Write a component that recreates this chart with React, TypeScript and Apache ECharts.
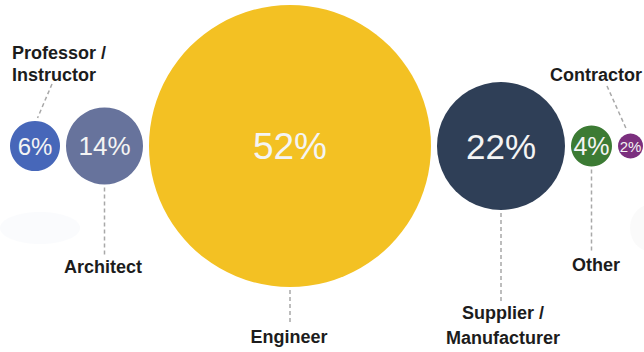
import React, { useEffect, useRef } from "react";
import * as echarts from "echarts";

// Data
const categories = ["Professor /\nInstructor", "Architect", "Engineer", "Supplier /\nManufacturer", "Other", "Contractor"];
const shares = [6, 14, 52, 22, 4, 2];
const colors = ["#4767b9", "#67739c", "#f3c123", "#2f3f57", "#3c7b34", "#7b2f7e"];

// Styles / layout (not data)
const pctFontSizes = [24, 26, 37, 35, 25, 15];
const W = 644;
const H = 352;
const CY = 146;
const START_X = 10;
const GAP = 6;
// piecewise-linear bubble size scale (share -> diameter px)
const sizeDomain = [2, 4, 6, 14, 22, 52];
const sizeRange = [25, 41, 50, 77, 128, 282];
const sizeOf = (v: number) => {
  if (v <= sizeDomain[0]) return sizeRange[0];
  for (let k = 1; k < sizeDomain.length; k++) {
    if (v <= sizeDomain[k]) {
      const t = (v - sizeDomain[k - 1]) / (sizeDomain[k] - sizeDomain[k - 1]);
      return sizeRange[k - 1] + t * (sizeRange[k] - sizeRange[k - 1]);
    }
  }
  return sizeRange[sizeRange.length - 1];
};

type LabelCfg = { side: "top" | "bottom"; lx: number; ly: number; align: "left" | "center"; lineFrom?: [number, number]; lineEndY?: number };
const labelCfg: LabelCfg[] = [
  { side: "top", lx: 12, ly: 64, align: "left", lineFrom: [52, 84] },
  { side: "bottom", lx: 103, ly: 267, align: "center", lineEndY: 255 },
  { side: "bottom", lx: 289, ly: 337, align: "center", lineEndY: 323 },
  { side: "bottom", lx: 503, ly: 325, align: "center", lineEndY: 304 },
  { side: "bottom", lx: 596, ly: 265, align: "center", lineEndY: 251 },
  { side: "top", lx: 596, ly: 75, align: "center", lineFrom: [607, 86] },
];

export default function App() {
  const ref = useRef<HTMLDivElement>(null);
  useEffect(() => {
    document.body.style.margin = "0";
    if (!ref.current) return;
    const chart = echarts.init(ref.current, undefined, { renderer: "svg" });

    const xs: number[] = [];
    let cursor = START_X;
    shares.forEach((v) => {
      const d = sizeOf(v);
      xs.push(cursor + d / 2);
      cursor += d + GAP;
    });

    chart.setOption({
      animation: false,
      backgroundColor: "#ffffff",
      grid: { left: 0, right: 0, top: 0, bottom: 0 },
      xAxis: { type: "value", min: 0, max: W, show: false },
      yAxis: { type: "value", min: 0, max: H, inverse: true, show: false },
      series: [
        {
          type: "scatter",
          clip: false,
          symbolSize: (val: number[]) => sizeOf(val[2]),
          data: shares.map((v, i) => ({
            name: categories[i].replace("\n", " "),
            value: [xs[i], CY, v],
            itemStyle: { color: colors[i], opacity: 1 },
            label: { fontSize: pctFontSizes[i] },
          })),
          label: {
            show: true,
            position: "inside",
            formatter: (p: any) => p.value[2] + "%",
            color: "#f4f4f4",
            fontFamily: "Liberation Sans, Arial, sans-serif",
            fontWeight: "normal",
          },
        },
      ],
    });

    const graphics: any[] = [];
    graphics.push({ type: "ellipse", shape: { cx: 40, cy: 228, rx: 40, ry: 16 }, style: { fill: "rgba(236,240,248,0.25)" }, z: 0 });
    graphics.push({ type: "ellipse", shape: { cx: 652, cy: 228, rx: 22, ry: 24 }, style: { fill: "rgba(232,232,232,0.22)" }, z: 0 });

    shares.forEach((v, i) => {
      const [px, py] = chart.convertToPixel({ gridIndex: 0 }, [xs[i], CY]) as number[];
      const r = sizeOf(v) / 2;
      const cfg = labelCfg[i];
      let x1: number, y1: number, x2: number, y2: number;
      if (cfg.side === "bottom") {
        x1 = px; y1 = py + r + 3; x2 = px; y2 = cfg.lineEndY as number;
      } else {
        x1 = (cfg.lineFrom as number[])[0]; y1 = (cfg.lineFrom as number[])[1];
        x2 = px - (px - x1) * 0.15; y2 = py - r - 3;
      }
      graphics.push({
        type: "line",
        shape: { x1, y1, x2, y2 },
        style: { stroke: "#a8a8a8", lineWidth: 1.5, lineDash: [4, 3] },
      });
      const lines = categories[i].split("\n");
      graphics.push({
        type: "text",
        x: cfg.lx,
        y: cfg.ly,
        style: {
          text: categories[i],
          fill: "#1c1c1c",
          fontSize: 18,
          fontWeight: "bold",
          fontFamily: "Liberation Sans, Arial, sans-serif",
          align: cfg.align,
          verticalAlign: "middle",
          lineHeight: lines.length > 1 ? (i === 0 ? 22 : 25) : 20,
        },
      });
    });
    chart.setOption({ graphic: graphics });

    return () => chart.dispose();
  }, []);
  return <div ref={ref} style={{ width: W, height: H }} />;
}
